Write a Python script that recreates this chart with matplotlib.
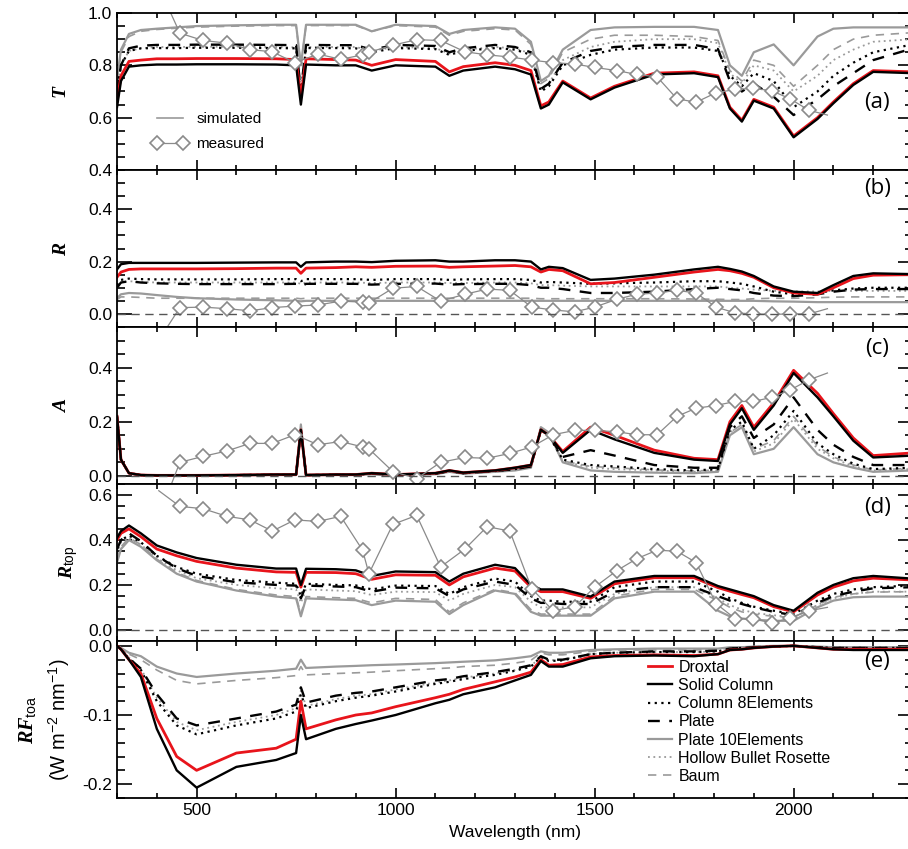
import matplotlib
matplotlib.use("Agg")
import matplotlib.pyplot as plt
from matplotlib.lines import Line2D
from matplotlib.ticker import MultipleLocator, FormatStrFormatter

plt.rcParams['font.family'] = ['Liberation Sans', 'DejaVu Sans']
plt.rcParams['axes.unicode_minus'] = False
plt.rcParams['mathtext.fontset'] = 'custom'
plt.rcParams['mathtext.it'] = 'Liberation Serif:italic:bold'
plt.rcParams['mathtext.rm'] = 'Liberation Sans'
plt.rcParams['mathtext.bf'] = 'Liberation Sans:bold'

# wavelength grid (nm) of the simulated spectra
wl = [300, 310, 330, 360, 400, 450, 500, 600, 700, 750, 762, 775, 850, 900, 940,
      1000, 1100, 1135, 1170, 1250, 1300, 1340, 1365, 1385, 1420, 1490, 1550, 1650,
      1750, 1810, 1840, 1870, 1900, 1950, 2000, 2060, 2100, 2150, 2200, 2300]
# wavelengths of the measured spectra (first and last point carry no marker)
meas_wl = [405, 458, 516, 576, 634, 690, 747, 805, 862, 917, 933, 993, 1053, 1113,
           1174, 1230, 1287, 1342, 1396, 1450, 1500, 1556, 1606, 1657, 1707, 1755,
           1805, 1853, 1899, 1945, 1991, 2039, 2085]

habits = ["Droxtal", "Solid Column", "Column 8Elements", "Plate",
          "Plate 10Elements", "Hollow Bullet Rosette", "Baum"]

# (a) transmittance
T_drox = [0.66, 0.76, 0.815, 0.82, 0.825, 0.825, 0.826, 0.826, 0.825, 0.822, 0.68, 0.825, 0.822, 0.82, 0.80,
          0.822, 0.815, 0.775, 0.795, 0.81, 0.80, 0.78, 0.645, 0.66, 0.74, 0.675, 0.72, 0.77,
          0.775, 0.76, 0.64, 0.59, 0.67, 0.64, 0.53, 0.60, 0.66, 0.73, 0.78, 0.775]
T_sol = [0.64, 0.74, 0.795, 0.80, 0.803, 0.803, 0.804, 0.804, 0.803, 0.80, 0.65, 0.803, 0.80, 0.80, 0.78,
         0.80, 0.795, 0.76, 0.78, 0.795, 0.785, 0.765, 0.635, 0.65, 0.735, 0.67, 0.715, 0.765,
         0.77, 0.755, 0.635, 0.585, 0.665, 0.635, 0.525, 0.595, 0.655, 0.725, 0.775, 0.77]
T_col8 = [0.70, 0.80, 0.855, 0.865, 0.866, 0.866, 0.867, 0.867, 0.866, 0.865, 0.70, 0.866, 0.866, 0.865, 0.85,
          0.866, 0.862, 0.84, 0.855, 0.866, 0.86, 0.84, 0.70, 0.72, 0.80, 0.84, 0.86, 0.868,
          0.868, 0.855, 0.76, 0.72, 0.77, 0.74, 0.64, 0.70, 0.76, 0.81, 0.85, 0.88]
T_plate = [0.70, 0.80, 0.865, 0.875, 0.878, 0.878, 0.879, 0.879, 0.878, 0.877, 0.70, 0.878, 0.877, 0.877, 0.86,
           0.878, 0.874, 0.85, 0.865, 0.878, 0.87, 0.85, 0.71, 0.73, 0.81, 0.855, 0.87, 0.878,
           0.878, 0.862, 0.74, 0.70, 0.73, 0.68, 0.61, 0.67, 0.72, 0.77, 0.82, 0.865]
T_p10 = [0.75, 0.86, 0.92, 0.935, 0.94, 0.945, 0.95, 0.953, 0.955, 0.955, 0.80, 0.955, 0.955, 0.955, 0.93,
         0.955, 0.95, 0.92, 0.935, 0.945, 0.94, 0.89, 0.74, 0.76, 0.86, 0.935, 0.945, 0.947,
         0.947, 0.935, 0.80, 0.76, 0.85, 0.88, 0.80, 0.91, 0.94, 0.945, 0.945, 0.945]
T_hbr = [0.70, 0.80, 0.855, 0.865, 0.87, 0.87, 0.871, 0.871, 0.87, 0.869, 0.71, 0.87, 0.87, 0.87, 0.855,
         0.87, 0.866, 0.845, 0.86, 0.87, 0.865, 0.845, 0.71, 0.73, 0.82, 0.87, 0.89, 0.90,
         0.90, 0.885, 0.77, 0.73, 0.80, 0.78, 0.70, 0.76, 0.82, 0.86, 0.89, 0.90]
T_baum = [0.74, 0.85, 0.91, 0.93, 0.937, 0.942, 0.946, 0.95, 0.952, 0.952, 0.80, 0.952, 0.952, 0.952, 0.93,
          0.952, 0.946, 0.915, 0.93, 0.94, 0.935, 0.88, 0.73, 0.75, 0.85, 0.90, 0.915, 0.915,
          0.91, 0.895, 0.78, 0.74, 0.82, 0.80, 0.72, 0.80, 0.86, 0.90, 0.915, 0.925]
T_meas = [1.10, 0.923, 0.895, 0.885, 0.86, 0.852, 0.81, 0.843, 0.823, 0.84, 0.85, 0.877, 0.898, 0.895,
          0.852, 0.84, 0.832, 0.82, 0.81, 0.805, 0.792, 0.78, 0.765, 0.756, 0.672, 0.659,
          0.695, 0.708, 0.712, 0.703, 0.672, 0.628, 0.61]

# (b) reflectance
R_drox = [0.14, 0.16, 0.17, 0.172, 0.172, 0.172, 0.172, 0.173, 0.175, 0.175, 0.155, 0.175, 0.177, 0.18, 0.178,
          0.182, 0.183, 0.178, 0.18, 0.183, 0.185, 0.18, 0.16, 0.17, 0.165, 0.115, 0.12, 0.14,
          0.16, 0.17, 0.165, 0.155, 0.14, 0.10, 0.08, 0.075, 0.10, 0.135, 0.148, 0.15]
R_sol = [0.17, 0.19, 0.195, 0.195, 0.195, 0.195, 0.195, 0.196, 0.197, 0.197, 0.18, 0.197, 0.2, 0.2, 0.198,
         0.203, 0.205, 0.2, 0.2, 0.205, 0.205, 0.2, 0.17, 0.18, 0.175, 0.13, 0.135, 0.15,
         0.17, 0.18, 0.172, 0.162, 0.145, 0.105, 0.085, 0.08, 0.11, 0.145, 0.155, 0.152]
R_col8 = [0.11, 0.13, 0.135, 0.133, 0.132, 0.132, 0.132, 0.132, 0.133, 0.133, 0.125, 0.133, 0.133, 0.133, 0.13,
          0.133, 0.133, 0.13, 0.132, 0.133, 0.133, 0.13, 0.12, 0.122, 0.12, 0.115, 0.117, 0.12,
          0.125, 0.125, 0.12, 0.115, 0.105, 0.085, 0.075, 0.08, 0.09, 0.097, 0.10, 0.10]
R_plate = [0.10, 0.12, 0.125, 0.12, 0.117, 0.115, 0.114, 0.114, 0.114, 0.115, 0.105, 0.115, 0.115, 0.115, 0.112,
           0.115, 0.116, 0.112, 0.114, 0.115, 0.115, 0.11, 0.10, 0.10, 0.095, 0.08, 0.08, 0.085,
           0.095, 0.10, 0.095, 0.09, 0.08, 0.07, 0.068, 0.075, 0.085, 0.093, 0.095, 0.095]
R_p10 = [0.06, 0.075, 0.08, 0.078, 0.072, 0.065, 0.06, 0.055, 0.052, 0.05, 0.048, 0.05, 0.05, 0.05, 0.05,
         0.05, 0.05, 0.05, 0.05, 0.05, 0.05, 0.05, 0.05, 0.05, 0.05, 0.05, 0.05, 0.05,
         0.05, 0.05, 0.05, 0.05, 0.05, 0.048, 0.047, 0.045, 0.045, 0.045, 0.045, 0.045]
R_hbr = [0.10, 0.12, 0.125, 0.122, 0.12, 0.12, 0.12, 0.12, 0.12, 0.12, 0.115, 0.12, 0.12, 0.12, 0.118,
         0.12, 0.12, 0.118, 0.118, 0.12, 0.12, 0.117, 0.11, 0.11, 0.108, 0.105, 0.105, 0.105,
         0.105, 0.105, 0.10, 0.097, 0.093, 0.088, 0.086, 0.086, 0.088, 0.088, 0.088, 0.088]
R_baum = [0.055, 0.065, 0.065, 0.063, 0.06, 0.06, 0.06, 0.06, 0.06, 0.06, 0.058, 0.06, 0.06, 0.06, 0.06,
          0.06, 0.06, 0.06, 0.06, 0.06, 0.06, 0.06, 0.058, 0.058, 0.058, 0.058, 0.058, 0.058,
          0.057, 0.056, 0.055, 0.055, 0.058, 0.06, 0.06, 0.062, 0.064, 0.065, 0.065, 0.065]
R_meas = [-0.10, 0.024, 0.026, 0.02, 0.012, 0.024, 0.03, 0.034, 0.049, 0.045, 0.042, 0.098, 0.105, 0.049,
          0.075, 0.095, 0.09, 0.026, 0.015, 0.008, 0.026, 0.056, 0.075, 0.08, 0.09, 0.08,
          0.026, 0.004, 0.0, -0.002, 0.0, 0.0, 0.02]

# (c) absorptance
A_drox = [0.22, 0.06, 0.01, 0.003, 0.002, 0.002, 0.002, 0.003, 0.005, 0.005, 0.17, 0.003, 0.005, 0.005, 0.01,
          0.005, 0.01, 0.02, 0.012, 0.02, 0.03, 0.04, 0.17, 0.15, 0.09, 0.18, 0.15, 0.095,
          0.065, 0.06, 0.20, 0.26, 0.18, 0.27, 0.39, 0.305, 0.23, 0.14, 0.075, 0.085]
A_sol = [0.22, 0.06, 0.01, 0.003, 0.002, 0.002, 0.002, 0.003, 0.005, 0.005, 0.17, 0.003, 0.005, 0.005, 0.01,
         0.005, 0.01, 0.02, 0.012, 0.02, 0.03, 0.04, 0.17, 0.15, 0.085, 0.17, 0.135, 0.085,
         0.06, 0.055, 0.19, 0.25, 0.17, 0.26, 0.38, 0.29, 0.22, 0.13, 0.068, 0.075]
A_col8 = [0.22, 0.06, 0.01, 0.003, 0.002, 0.002, 0.002, 0.003, 0.004, 0.004, 0.17, 0.003, 0.004, 0.004, 0.008,
          0.004, 0.008, 0.018, 0.01, 0.018, 0.025, 0.035, 0.17, 0.15, 0.06, 0.04, 0.035, 0.025,
          0.02, 0.025, 0.17, 0.20, 0.10, 0.15, 0.24, 0.12, 0.08, 0.045, 0.025, 0.03]
A_plate = [0.22, 0.06, 0.01, 0.003, 0.002, 0.002, 0.002, 0.003, 0.004, 0.004, 0.17, 0.003, 0.004, 0.004, 0.008,
           0.004, 0.008, 0.018, 0.01, 0.018, 0.025, 0.035, 0.17, 0.15, 0.07, 0.095, 0.075, 0.04,
           0.03, 0.03, 0.18, 0.22, 0.14, 0.19, 0.29, 0.17, 0.115, 0.07, 0.04, 0.04]
A_p10 = [0.22, 0.06, 0.01, 0.002, 0.001, 0.001, 0.001, 0.002, 0.003, 0.003, 0.19, 0.002, 0.003, 0.003, 0.006,
         0.003, 0.006, 0.015, 0.008, 0.015, 0.02, 0.03, 0.18, 0.16, 0.05, 0.02, 0.015, 0.012,
         0.01, 0.015, 0.15, 0.18, 0.08, 0.10, 0.18, 0.08, 0.05, 0.03, 0.015, 0.02]
A_hbr = [0.22, 0.06, 0.01, 0.002, 0.001, 0.001, 0.001, 0.002, 0.003, 0.003, 0.18, 0.002, 0.003, 0.003, 0.007,
         0.003, 0.007, 0.016, 0.009, 0.016, 0.022, 0.032, 0.17, 0.15, 0.055, 0.03, 0.025, 0.02,
         0.015, 0.02, 0.16, 0.19, 0.09, 0.12, 0.21, 0.10, 0.065, 0.035, 0.02, 0.025]
A_baum = [0.22, 0.06, 0.01, 0.002, 0.001, 0.001, 0.001, 0.002, 0.003, 0.003, 0.18, 0.002, 0.003, 0.003, 0.007,
          0.003, 0.007, 0.016, 0.009, 0.016, 0.022, 0.032, 0.17, 0.15, 0.055, 0.035, 0.03, 0.022,
          0.018, 0.022, 0.16, 0.19, 0.10, 0.13, 0.22, 0.11, 0.07, 0.04, 0.022, 0.028]
A_meas = [-0.15, 0.05, 0.072, 0.092, 0.12, 0.12, 0.152, 0.115, 0.127, 0.107, 0.10, 0.016, -0.01, 0.05,
          0.068, 0.065, 0.083, 0.107, 0.152, 0.168, 0.168, 0.163, 0.152, 0.152, 0.22, 0.25,
          0.26, 0.275, 0.275, 0.29, 0.317, 0.355, 0.38]

# (d) top-of-atmosphere reflectance
Rt_drox = [0.40, 0.43, 0.45, 0.415, 0.36, 0.33, 0.305, 0.275, 0.258, 0.256, 0.19, 0.256, 0.255, 0.25, 0.225,
           0.245, 0.243, 0.20, 0.236, 0.275, 0.262, 0.19, 0.17, 0.17, 0.17, 0.14, 0.205, 0.232,
           0.232, 0.188, 0.172, 0.157, 0.143, 0.103, 0.08, 0.155, 0.19, 0.218, 0.23, 0.222]
Rt_sol = [0.41, 0.44, 0.465, 0.43, 0.376, 0.345, 0.32, 0.29, 0.273, 0.273, 0.20, 0.272, 0.27, 0.265, 0.24,
          0.26, 0.257, 0.215, 0.25, 0.29, 0.275, 0.20, 0.18, 0.18, 0.18, 0.148, 0.215, 0.24,
          0.24, 0.195, 0.18, 0.165, 0.15, 0.11, 0.085, 0.165, 0.20, 0.23, 0.24, 0.228]
Rt_col8 = [0.36, 0.40, 0.42, 0.39, 0.33, 0.28, 0.25, 0.222, 0.21, 0.205, 0.15, 0.205, 0.20, 0.198, 0.18,
           0.197, 0.195, 0.16, 0.19, 0.228, 0.215, 0.15, 0.13, 0.13, 0.125, 0.125, 0.19, 0.215,
           0.215, 0.17, 0.14, 0.12, 0.103, 0.085, 0.07, 0.13, 0.16, 0.18, 0.19, 0.197]
Rt_plate = [0.36, 0.40, 0.43, 0.395, 0.33, 0.275, 0.24, 0.212, 0.20, 0.197, 0.14, 0.197, 0.193, 0.19, 0.17,
            0.188, 0.185, 0.15, 0.18, 0.215, 0.20, 0.14, 0.12, 0.12, 0.115, 0.115, 0.17, 0.19,
            0.19, 0.15, 0.13, 0.115, 0.10, 0.08, 0.065, 0.12, 0.15, 0.17, 0.185, 0.19]
Rt_p10 = [0.30, 0.36, 0.40, 0.37, 0.31, 0.25, 0.215, 0.175, 0.148, 0.14, 0.06, 0.14, 0.135, 0.132, 0.11,
          0.13, 0.125, 0.07, 0.11, 0.175, 0.16, 0.08, 0.063, 0.063, 0.063, 0.063, 0.14, 0.17,
          0.17, 0.085, 0.06, 0.05, 0.045, 0.04, 0.04, 0.10, 0.13, 0.145, 0.148, 0.148]
Rt_hbr = [0.34, 0.39, 0.41, 0.38, 0.32, 0.265, 0.23, 0.20, 0.185, 0.18, 0.12, 0.18, 0.175, 0.172, 0.155,
          0.17, 0.168, 0.13, 0.16, 0.20, 0.19, 0.125, 0.10, 0.10, 0.10, 0.10, 0.16, 0.19,
          0.19, 0.14, 0.11, 0.09, 0.075, 0.065, 0.055, 0.11, 0.14, 0.16, 0.17, 0.17]
Rt_baum = [0.31, 0.37, 0.41, 0.38, 0.315, 0.255, 0.22, 0.18, 0.155, 0.148, 0.07, 0.148, 0.143, 0.14, 0.12,
           0.14, 0.135, 0.08, 0.12, 0.18, 0.165, 0.09, 0.07, 0.07, 0.07, 0.07, 0.15, 0.18,
           0.18, 0.13, 0.10, 0.08, 0.07, 0.06, 0.055, 0.11, 0.145, 0.16, 0.168, 0.17]
Rt_meas = [0.62, 0.55, 0.54, 0.506, 0.49, 0.44, 0.49, 0.483, 0.506, 0.355, 0.25, 0.47, 0.51, 0.28,
           0.36, 0.46, 0.44, 0.183, 0.085, 0.103, 0.19, 0.264, 0.317, 0.355, 0.35, 0.30,
           0.117, 0.05, 0.05, 0.03, 0.053, 0.085, 0.10]

# (e) radiative forcing at TOA
RF_drox = [0.0, -0.005, -0.02, -0.04, -0.105, -0.16, -0.18, -0.155, -0.148, -0.135, -0.08, -0.12, -0.107, -0.10, -0.097,
           -0.088, -0.075, -0.07, -0.063, -0.052, -0.045, -0.038, -0.02, -0.028, -0.027, -0.016, -0.014, -0.013,
           -0.014, -0.012, -0.006, -0.005, -0.003, -0.001, 0.0, -0.003, -0.005, -0.005, -0.005, -0.005]
RF_sol = [0.0, -0.005, -0.02, -0.045, -0.12, -0.18, -0.205, -0.175, -0.165, -0.155, -0.10, -0.135, -0.12, -0.113, -0.108,
          -0.10, -0.083, -0.078, -0.07, -0.06, -0.05, -0.042, -0.022, -0.03, -0.03, -0.018, -0.015, -0.014,
          -0.015, -0.012, -0.006, -0.005, -0.003, -0.001, 0.0, -0.003, -0.005, -0.006, -0.006, -0.006]
RF_col8 = [0.0, -0.005, -0.018, -0.035, -0.08, -0.115, -0.128, -0.115, -0.105, -0.095, -0.07, -0.09, -0.08, -0.075, -0.072,
           -0.066, -0.055, -0.052, -0.048, -0.042, -0.036, -0.03, -0.016, -0.022, -0.021, -0.012, -0.01, -0.009,
           -0.009, -0.008, -0.004, -0.003, -0.002, -0.001, 0.0, -0.002, -0.003, -0.003, -0.003, -0.003]
RF_plate = [0.0, -0.005, -0.018, -0.033, -0.07, -0.105, -0.115, -0.105, -0.095, -0.085, -0.06, -0.082, -0.072, -0.068, -0.066,
            -0.06, -0.05, -0.048, -0.044, -0.038, -0.033, -0.028, -0.015, -0.02, -0.02, -0.012, -0.01, -0.008,
            -0.008, -0.007, -0.004, -0.003, -0.002, -0.001, 0.0, -0.002, -0.003, -0.003, -0.003, -0.003]
RF_p10 = [0.0, -0.003, -0.01, -0.015, -0.03, -0.04, -0.045, -0.04, -0.036, -0.033, -0.02, -0.032, -0.03, -0.029, -0.028,
          -0.027, -0.025, -0.024, -0.023, -0.021, -0.018, -0.015, -0.008, -0.01, -0.01, -0.006, -0.005, -0.004,
          -0.004, -0.004, -0.002, -0.002, -0.001, 0.0, 0.0, -0.001, -0.002, -0.002, -0.002, -0.002]
RF_hbr = [0.0, -0.005, -0.017, -0.033, -0.075, -0.11, -0.122, -0.11, -0.10, -0.09, -0.065, -0.087, -0.077, -0.072, -0.07,
          -0.063, -0.053, -0.05, -0.046, -0.04, -0.035, -0.029, -0.016, -0.021, -0.02, -0.012, -0.01, -0.009,
          -0.009, -0.008, -0.004, -0.003, -0.002, -0.001, 0.0, -0.002, -0.003, -0.003, -0.003, -0.003]
RF_baum = [0.0, -0.004, -0.012, -0.02, -0.035, -0.05, -0.055, -0.05, -0.046, -0.043, -0.03, -0.042, -0.04, -0.039, -0.038,
           -0.036, -0.033, -0.032, -0.03, -0.028, -0.025, -0.021, -0.01, -0.013, -0.013, -0.008, -0.006, -0.006,
           -0.006, -0.005, -0.003, -0.002, -0.002, -0.001, 0.0, -0.002, -0.003, -0.003, -0.003, -0.003]

red = "#e8141b"
grey = "#9a9a9a"
meas_grey = "#8a8a8a"
# drawing order: greys first, red under black solid
styles = {
    "Plate 10Elements":      dict(color=grey, ls="-", lw=1.6),
    "Hollow Bullet Rosette": dict(color=grey, ls=(0, (1, 2)), lw=1.3),
    "Baum":                  dict(color=grey, ls=(0, (5, 4)), lw=1.2),
    "Column 8Elements":      dict(color="black", ls=(0, (1, 2)), lw=1.6),
    "Plate":                 dict(color="black", ls=(0, (5, 4)), lw=1.7),
    "Droxtal":               dict(color=red, ls="-", lw=2.0),
    "Solid Column":          dict(color="black", ls="-", lw=1.7),
}

panels = [
    dict(sim=[T_drox, T_sol, T_col8, T_plate, T_p10, T_hbr, T_baum], meas=T_meas,
         ylim=(0.4, 1.0), major=0.2, minor=0.05, label=r"$T$", labx=-0.059,
         tag="(a)", tagy=0.43, zero=False),
    dict(sim=[R_drox, R_sol, R_col8, R_plate, R_p10, R_hbr, R_baum], meas=R_meas,
         ylim=(-0.05, 0.55), major=0.2, minor=0.05, label=r"$R$", labx=-0.059,
         tag="(b)", tagy=0.885, zero=True),
    dict(sim=[A_drox, A_sol, A_col8, A_plate, A_p10, A_hbr, A_baum], meas=A_meas,
         ylim=(-0.03, 0.55), major=0.2, minor=0.05, label=r"$A$", labx=-0.059,
         tag="(c)", tagy=0.865, zero=True),
    dict(sim=[Rt_drox, Rt_sol, Rt_col8, Rt_plate, Rt_p10, Rt_hbr, Rt_baum], meas=Rt_meas,
         ylim=(-0.05, 0.65), major=0.2, minor=0.05, label=r"$R_{\mathrm{top}}$", labx=-0.046,
         tag="(d)", tagy=0.85, zero=True),
    dict(sim=[RF_drox, RF_sol, RF_col8, RF_plate, RF_p10, RF_hbr, RF_baum], meas=None,
         ylim=(-0.22, 0.007), major=0.1, minor=0.02,
         label=r"$RF_{\mathrm{toa}}$" + "\n" + r"(W m$^{-2}$ nm$^{-1}$)", labx=-0.057,
         tag="(e)", tagy=0.87, zero=False),
]

fig = plt.figure(figsize=(9.08, 8.49), dpi=100)
left, width = 117 / 908, 796 / 908
top, h = 1 - 13 / 849, 157 / 849

axes = []
for i, p in enumerate(panels):
    ax = fig.add_axes([left, top - (i + 1) * h, width, h])
    axes.append(ax)
    series = dict(zip(habits, p["sim"]))
    for name in styles:
        ax.plot(wl, series[name], **styles[name])
    if p["meas"] is not None:
        ax.plot(meas_wl, p["meas"], color=meas_grey, lw=0.9, marker="D", ms=7,
                mfc="white", mec=meas_grey, mew=1.2, markevery=list(range(1, len(meas_wl) - 1)))
    if p["zero"]:
        ax.axhline(0, color="#555555", lw=1.0, ls=(0, (6, 4)))
    ax.set_xlim(300, 2300)
    ax.set_ylim(*p["ylim"])
    ax.xaxis.set_major_locator(MultipleLocator(500))
    ax.xaxis.set_minor_locator(MultipleLocator(100))
    ax.yaxis.set_major_locator(MultipleLocator(p["major"]))
    ax.yaxis.set_minor_locator(MultipleLocator(p["minor"]))
    ax.yaxis.set_major_formatter(FormatStrFormatter("%.1f"))
    ax.tick_params(which="both", direction="in", top=True, right=True, width=1.2,
                   labelsize=12.5, labelbottom=(i == 4))
    ax.tick_params(axis="x", which="major", length=7)
    ax.tick_params(axis="x", which="minor", length=3.5)
    ax.tick_params(axis="y", which="major", length=11)
    ax.tick_params(axis="y", which="minor", length=5.5)
    for s in ax.spines.values():
        s.set_linewidth(1.3)
    if i < 4:
        ax.set_ylabel(p["label"], fontsize=14)
    else:
        ax.set_ylabel(p["label"], fontsize=14.5, linespacing=1.45)
    ax.yaxis.set_label_coords(p["labx"], 0.5)
    ax.text(0.955, p["tagy"], p["tag"], transform=ax.transAxes, ha="center", va="center",
            fontsize=16, family=["Open Sans", "DejaVu Sans"])

axes[4].set_xlabel("Wavelength (nm)", fontsize=12.5, labelpad=5)

# legend in (a)
h_sim = Line2D([], [], color=grey, lw=1.2)
h_meas = Line2D([], [], color=meas_grey, lw=0.9, marker="D", ms=7, mfc="white",
                mec=meas_grey, mew=1.2)
axes[0].legend([h_sim, h_meas], ["simulated", "measured"], loc="upper left",
               bbox_to_anchor=(0.044, 0.37), frameon=False, fontsize=11, borderpad=0,
               borderaxespad=0, handlelength=2.3, handletextpad=0.6, labelspacing=0.75,
               numpoints=2)

# legend in (e)
hab_handles = [Line2D([], [], **styles[n]) for n in habits]
axes[4].legend(hab_handles, habits, loc="upper left", bbox_to_anchor=(0.667, 0.88),
               frameon=False, fontsize=11.5, borderpad=0, borderaxespad=0,
               handlelength=1.5, handletextpad=0.4, labelspacing=0.2)

fig.savefig("out.png", dpi=100)
